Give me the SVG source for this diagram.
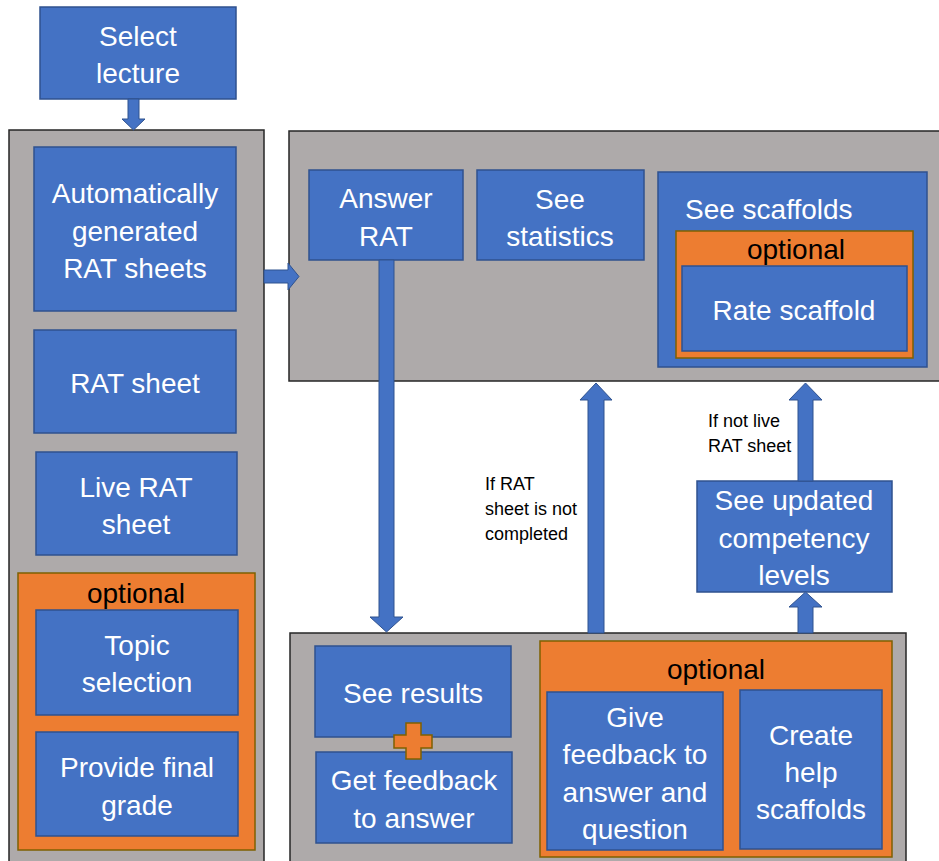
<svg xmlns="http://www.w3.org/2000/svg" width="939" height="861" viewBox="0 0 939 861">
<style>
.panel{fill:#AEAAAA;stroke:#262626;stroke-width:1.5}
.box{fill:#4472C4;stroke:#2F528F;stroke-width:1.5}
.opt{fill:#ED7D31;stroke:#7F6000;stroke-width:1.5}
.arr{fill:#4472C4;stroke:#2F528F;stroke-width:1}
.t{font-family:"Liberation Sans",Arial,sans-serif;font-size:28px;fill:#FFFFFF;text-anchor:middle}
.o{font-family:"Liberation Sans",Arial,sans-serif;font-size:28px;fill:#000000;text-anchor:middle}
.l{font-family:"Liberation Sans",Arial,sans-serif;font-size:18px;fill:#000000}
</style>
<rect width="939" height="861" fill="#FFFFFF"/>

<g id="select-lecture">
<rect class="box" x="40" y="7" width="196" height="92"/>
<text class="t" x="138" y="46">Select</text>
<text class="t" x="138" y="83">lecture</text>
</g>

<g id="left-panel">
<rect class="panel" x="9" y="130" width="255" height="740"/>
</g>
<g id="auto-rat">
<rect class="box" x="34" y="147" width="202" height="164"/>
<text class="t" x="135" y="203">Automatically</text>
<text class="t" x="135" y="241">generated</text>
<text class="t" x="135" y="278">RAT sheets</text>
</g>
<g id="rat-sheet">
<rect class="box" x="34" y="330" width="202" height="103"/>
<text class="t" x="135" y="393">RAT sheet</text>
</g>
<g id="live-rat-sheet">
<rect class="box" x="36" y="452" width="201" height="103"/>
<text class="t" x="136" y="497">Live RAT</text>
<text class="t" x="136" y="534">sheet</text>
</g>
<g id="left-optional">
<rect class="opt" x="18" y="573" width="237" height="277"/>
<text class="o" x="136" y="603">optional</text>
</g>
<g id="topic-selection">
<rect class="box" x="36" y="610" width="202" height="105"/>
<text class="t" x="137" y="655">Topic</text>
<text class="t" x="137" y="692">selection</text>
</g>
<g id="final-grade">
<rect class="box" x="36" y="732" width="202" height="104"/>
<text class="t" x="137" y="777">Provide final</text>
<text class="t" x="137" y="815">grade</text>
</g>

<g id="top-panel">
<rect class="panel" x="289" y="131" width="660" height="250"/>
</g>
<g id="answer-rat">
<rect class="box" x="309" y="170" width="154" height="90"/>
<text class="t" x="386" y="208">Answer</text>
<text class="t" x="386" y="246">RAT</text>
</g>
<g id="see-statistics">
<rect class="box" x="477" y="170" width="167" height="90"/>
<text class="t" x="560" y="209">See</text>
<text class="t" x="560" y="246">statistics</text>
</g>
<g id="see-scaffolds">
<rect class="box" x="658" y="172" width="269" height="195"/>
<text class="t" x="685" y="219" style="text-anchor:start">See scaffolds</text>
<rect class="opt" x="676" y="231" width="237" height="127"/>
<text class="o" x="796" y="259">optional</text>
</g>
<g id="rate-scaffold">
<rect class="box" x="682" y="266" width="225" height="85"/>
<text class="t" x="794" y="320">Rate scaffold</text>
</g>

<g id="competency">
<rect class="box" x="697" y="481" width="195" height="111"/>
<text class="t" x="794" y="510">See updated</text>
<text class="t" x="794" y="548">competency</text>
<text class="t" x="794" y="585">levels</text>
</g>

<g id="bottom-panel">
<rect class="panel" x="290" y="633" width="616" height="240"/>
</g>
<g id="see-results">
<rect class="box" x="315" y="646" width="196" height="91"/>
<text class="t" x="413" y="703">See results</text>
</g>
<g id="get-feedback">
<rect class="box" x="316" y="752" width="196" height="91"/>
<text class="t" x="414" y="790">Get feedback</text>
<text class="t" x="414" y="828">to answer</text>
</g>
<g id="plus">
<polygon class="opt" points="406,723 421,723 421,735 432,735 432,748 421,748 421,759 406,759 406,748 394,748 394,735 406,735"/>
</g>
<g id="bottom-optional">
<rect class="opt" x="540" y="641" width="352" height="216"/>
<text class="o" x="716" y="679">optional</text>
</g>
<g id="give-feedback">
<rect class="box" x="547" y="692" width="176" height="158"/>
<text class="t" x="635" y="727">Give</text>
<text class="t" x="635" y="764">feedback to</text>
<text class="t" x="635" y="802">answer and</text>
<text class="t" x="635" y="839">question</text>
</g>
<g id="create-scaffolds">
<rect class="box" x="740" y="690" width="142" height="159"/>
<text class="t" x="811" y="745">Create</text>
<text class="t" x="811" y="782">help</text>
<text class="t" x="811" y="819">scaffolds</text>
</g>

<g id="connectors">
<polygon class="arr" points="128,99 139,99 139,119 145,119 133.5,130 122,119 128,119"/>
<polygon class="arr" points="264,270 288,270 288,263 299,276.5 288,290 288,283 264,283"/>
<polygon class="arr" points="379,260 394,260 394,617 403,617 386.5,632 370,617 379,617"/>
<polygon class="arr" points="588,633 604,633 604,400 612,400 596,383 580,400 588,400"/>
<polygon class="arr" points="798,481 813,481 813,400 822,400 805.5,383 789,400 798,400"/>
<polygon class="arr" points="798,633 813,633 813,607 822,607 805.5,592 789,607 798,607"/>
<text class="l" x="485" y="490">If RAT</text>
<text class="l" x="485" y="515">sheet is not</text>
<text class="l" x="485" y="540">completed</text>
<text class="l" x="708" y="427">If not live</text>
<text class="l" x="708" y="452">RAT sheet</text>
</g>
</svg>
